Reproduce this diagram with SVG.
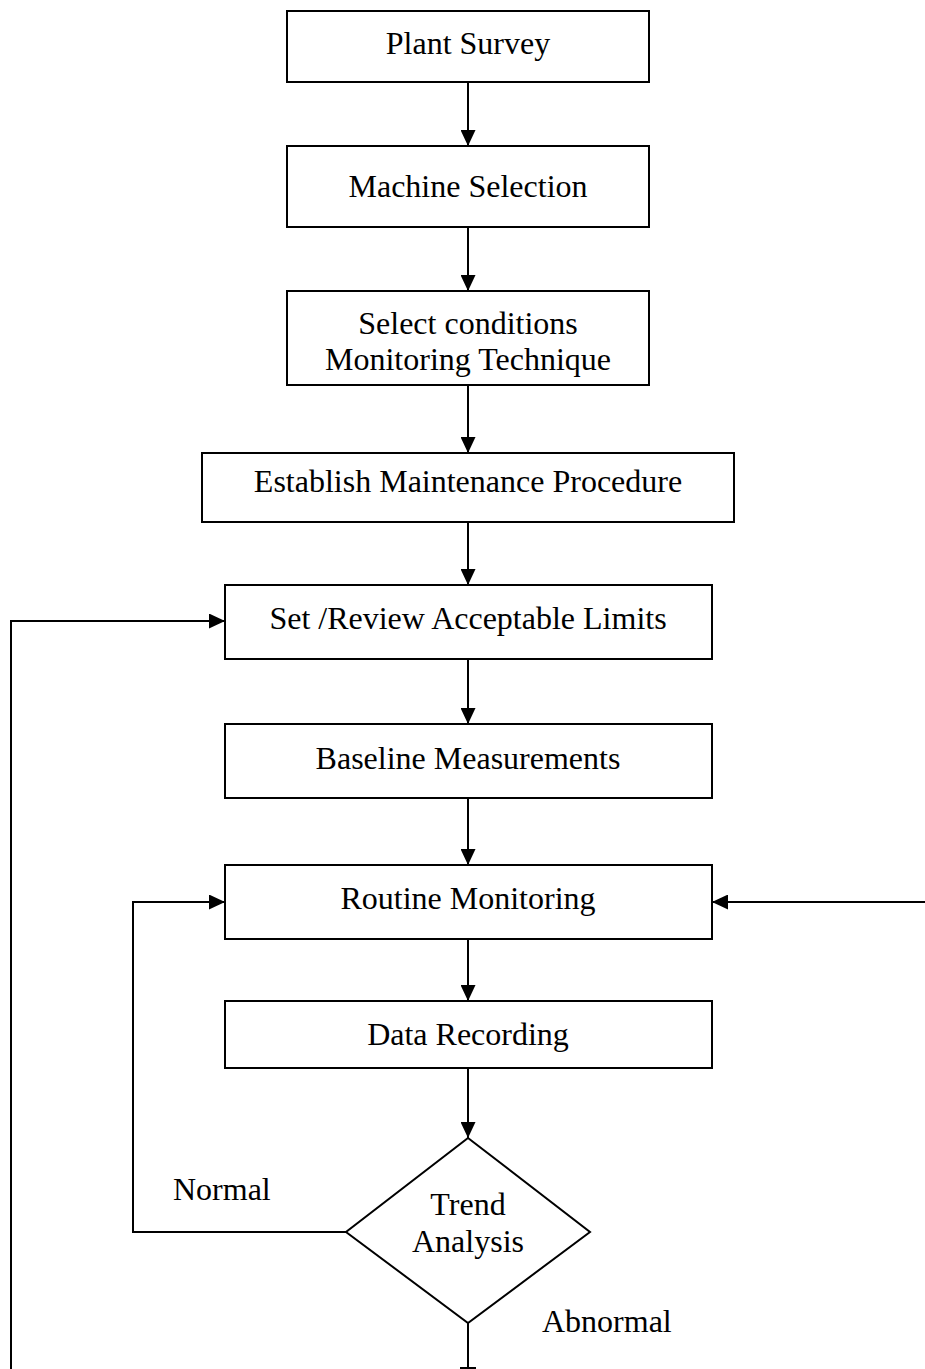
<svg xmlns="http://www.w3.org/2000/svg" width="925" height="1369" viewBox="0 0 925 1369">
  <style>
    .box { fill: #fff; stroke: #000; stroke-width: 2; }
    .lbl { font-family: "Liberation Serif", "Times New Roman", serif; font-size: 32px; fill: #000; text-anchor: middle; }
    .tag { font-family: "Liberation Serif", "Times New Roman", serif; font-size: 32px; fill: #000; }
    .wire { fill: none; stroke: #000; stroke-width: 2; }
  </style>
  <defs>
    <marker id="arrow" viewBox="0 0 16 15" refX="16" refY="7.5" markerWidth="16" markerHeight="15" markerUnits="userSpaceOnUse" orient="auto">
      <path d="M0,0 L16,7.5 L0,15 Z" fill="#000"/>
    </marker>
  </defs>
  <rect width="925" height="1369" fill="#fff"/>

  <g id="connectors">
    <line class="wire" x1="468" y1="82" x2="468" y2="146" marker-end="url(#arrow)"/>
    <line class="wire" x1="468" y1="227" x2="468" y2="291" marker-end="url(#arrow)"/>
    <line class="wire" x1="468" y1="385" x2="468" y2="453" marker-end="url(#arrow)"/>
    <line class="wire" x1="468" y1="522" x2="468" y2="585" marker-end="url(#arrow)"/>
    <line class="wire" x1="468" y1="659" x2="468" y2="724" marker-end="url(#arrow)"/>
    <line class="wire" x1="468" y1="798" x2="468" y2="865" marker-end="url(#arrow)"/>
    <line class="wire" x1="468" y1="939" x2="468" y2="1001" marker-end="url(#arrow)"/>
    <line class="wire" x1="468" y1="1068" x2="468" y2="1138" marker-end="url(#arrow)"/>
    <!-- review loop back to limits -->
    <polyline class="wire" points="11,1369 11,621 225,621" marker-end="url(#arrow)"/>
    <!-- external feed into routine monitoring -->
    <line class="wire" x1="925" y1="902" x2="712" y2="902" marker-end="url(#arrow)"/>
    <!-- normal loop -->
    <polyline class="wire" points="346,1232 133,1232 133,902 225,902" marker-end="url(#arrow)"/>
    <!-- abnormal branch -->
    <line class="wire" x1="468" y1="1323" x2="468" y2="1369"/>
    <line class="wire" x1="460" y1="1368" x2="476" y2="1368"/>
  </g>

  <g id="plant-survey">
    <rect class="box" x="287" y="11" width="362" height="71"/>
    <text class="lbl" x="468" y="54">Plant Survey</text>
  </g>
  <g id="machine-selection">
    <rect class="box" x="287" y="146" width="362" height="81"/>
    <text class="lbl" x="468" y="197">Machine Selection</text>
  </g>
  <g id="select-technique">
    <rect class="box" x="287" y="291" width="362" height="94"/>
    <text class="lbl" x="468" y="334">Select conditions</text>
    <text class="lbl" x="468" y="370">Monitoring Technique</text>
  </g>
  <g id="maintenance-procedure">
    <rect class="box" x="202" y="453" width="532" height="69"/>
    <text class="lbl" x="468" y="492">Establish Maintenance Procedure</text>
  </g>
  <g id="acceptable-limits">
    <rect class="box" x="225" y="585" width="487" height="74"/>
    <text class="lbl" x="468" y="629">Set /Review Acceptable Limits</text>
  </g>
  <g id="baseline-measurements">
    <rect class="box" x="225" y="724" width="487" height="74"/>
    <text class="lbl" x="468" y="769">Baseline Measurements</text>
  </g>
  <g id="routine-monitoring">
    <rect class="box" x="225" y="865" width="487" height="74"/>
    <text class="lbl" x="468" y="909">Routine Monitoring</text>
  </g>
  <g id="data-recording">
    <rect class="box" x="225" y="1001" width="487" height="67"/>
    <text class="lbl" x="468" y="1045">Data Recording</text>
  </g>
  <g id="trend-analysis">
    <polygon class="box" points="468,1138 590,1232 468,1323 346,1232"/>
    <text class="lbl" x="468" y="1215">Trend</text>
    <text class="lbl" x="468" y="1252">Analysis</text>
  </g>
  <g id="branch-labels">
    <text class="tag" x="173" y="1200">Normal</text>
    <text class="tag" x="542" y="1332">Abnormal</text>
  </g>
</svg>
